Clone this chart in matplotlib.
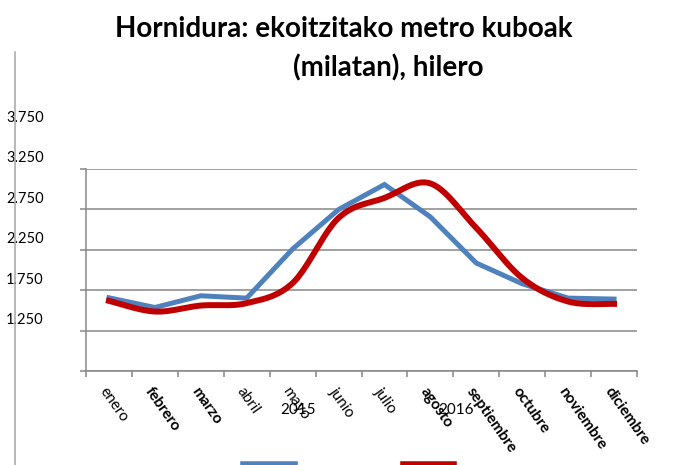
import numpy as np
import matplotlib
matplotlib.use('Agg')
import matplotlib.pyplot as plt
from matplotlib.lines import Line2D
from matplotlib.transforms import ScaledTranslation

months = ['enero', 'febrero', 'marzo', 'abril', 'mayo', 'junio', 'julio',
          'agosto', 'septiembre', 'octubre', 'noviembre', 'diciembre']
bold_months = ['febrero', 'marzo', 'agosto', 'septiembre', 'octubre',
               'noviembre', 'diciembre']
values_2015 = [2156, 2036, 2181, 2152, 2760, 3248, 3558, 3157, 2586, 2330, 2152, 2140]
values_2016 = [2118, 1986, 2060, 2090, 2338, 3144, 3392, 3571, 3020, 2400, 2110, 2081]
yticks = [1250, 1750, 2250, 2750, 3250, 3750]
ytick_labels = ['1.250', '1.750', '2.250', '2.750', '3.250', '3.750']
year_labels = ['2015', '2016']

BLUE = '#4F81BD'
RED = '#C00000'
GRID = '#878787'


def catmull_rom(x, y, n=24):
    """Smooth line through the points, like the spreadsheet 'smoothed line'."""
    pts = np.column_stack([x, y]).astype(float)
    out = []
    last = len(pts) - 1
    for i in range(last):
        p0 = pts[max(i - 1, 0)]
        p1 = pts[i]
        p2 = pts[i + 1]
        p3 = pts[min(i + 2, last)]
        t = np.linspace(0, 1, n)[:, None]
        seg = 0.5 * ((2 * p1) + (-p0 + p2) * t +
                     (2 * p0 - 5 * p1 + 4 * p2 - p3) * t ** 2 +
                     (-p0 + 3 * p1 - 3 * p2 + p3) * t ** 3)
        out.append(seg if i == 0 else seg[1:])
    out = np.vstack(out)
    return out[:, 0], out[:, 1]


plt.rcParams['font.family'] = ['Lato', 'DejaVu Sans']

fig = plt.figure(figsize=(6.88, 4.65), dpi=100)
W, H = 688, 465
ax = fig.add_axes([86 / W, 1 - 371 / H, (637 - 86) / W, (371 - 169) / H])

x = np.arange(len(months))
ax.plot(x, values_2015, color=BLUE, lw=3.6, solid_joinstyle='miter', zorder=3)
sx, sy = catmull_rom(x, values_2016)
ax.plot(sx, sy, color=RED, lw=4.3, zorder=4)

ax.set_xlim(-0.5, len(months) - 0.5)
ax.set_ylim(yticks[0], yticks[-1])

for s in ['top', 'right']:
    ax.spines[s].set_visible(False)
for s in ['left', 'bottom']:
    ax.spines[s].set_color(GRID)
    ax.spines[s].set_linewidth(1.1)

ax.set_yticks(yticks)
ax.set_yticklabels(ytick_labels, fontsize=10.5, ha='left')
ax.tick_params(axis='y', length=4.3, width=1.1, color=GRID, pad=53.3)
# the labels sit about one step higher than their gridlines
for lab in ax.get_yticklabels():
    lab.set_transform(lab.get_transform() + ScaledTranslation(0, 52.6 / 100, fig.dpi_scale_trans))
ax.yaxis.grid(True, color=GRID, lw=1.1)
ax.set_axisbelow(True)

ax.set_xticks(x)
ax.set_xticklabels(months, fontsize=11, rotation=-55, ha='left', va='top',
                   rotation_mode='anchor')
ax.set_xticks(np.arange(-0.5, len(months), 1), minor=True)
ax.tick_params(axis='x', which='major', length=0, pad=10)
ax.tick_params(axis='x', which='minor', length=4.3, width=1.1, color=GRID)
for lab in ax.get_xticklabels():
    lab.set_transform(lab.get_transform() + ScaledTranslation(-1 / 100, 0, fig.dpi_scale_trans))
    if lab.get_text() in bold_months:
        lab.set_fontweight('bold')

for xa, txt in zip([(298 - 86) / 551, (456 - 86) / 551], year_labels):
    ax.text(xa, (371 - 410) / 202, txt, transform=ax.transAxes, ha='center',
            va='center', fontsize=11)

# title
fig.text(115 / W, 1 - 29 / H, 'Hornidura: ekoitzitako metro kuboak',
         fontsize=20, fontweight='bold', ha='left', va='center')
fig.text(293 / W, 1 - 68 / H, '(milatan), hilero',
         fontsize=20, fontweight='bold', ha='left', va='center')

# stray vertical line at the far left
fig.add_artist(Line2D([15 / W, 15 / W], [0, 1 - 52 / H], color='#A6A6A6', lw=1.1))

# legend keys, cut off at the bottom edge
fig.add_artist(Line2D([243 / W, 295 / W], [1 - 464 / H] * 2, color=BLUE, lw=4))
fig.add_artist(Line2D([403 / W, 454 / W], [1 - 464 / H] * 2, color=RED, lw=4))

fig.savefig('out.png', dpi=100)
